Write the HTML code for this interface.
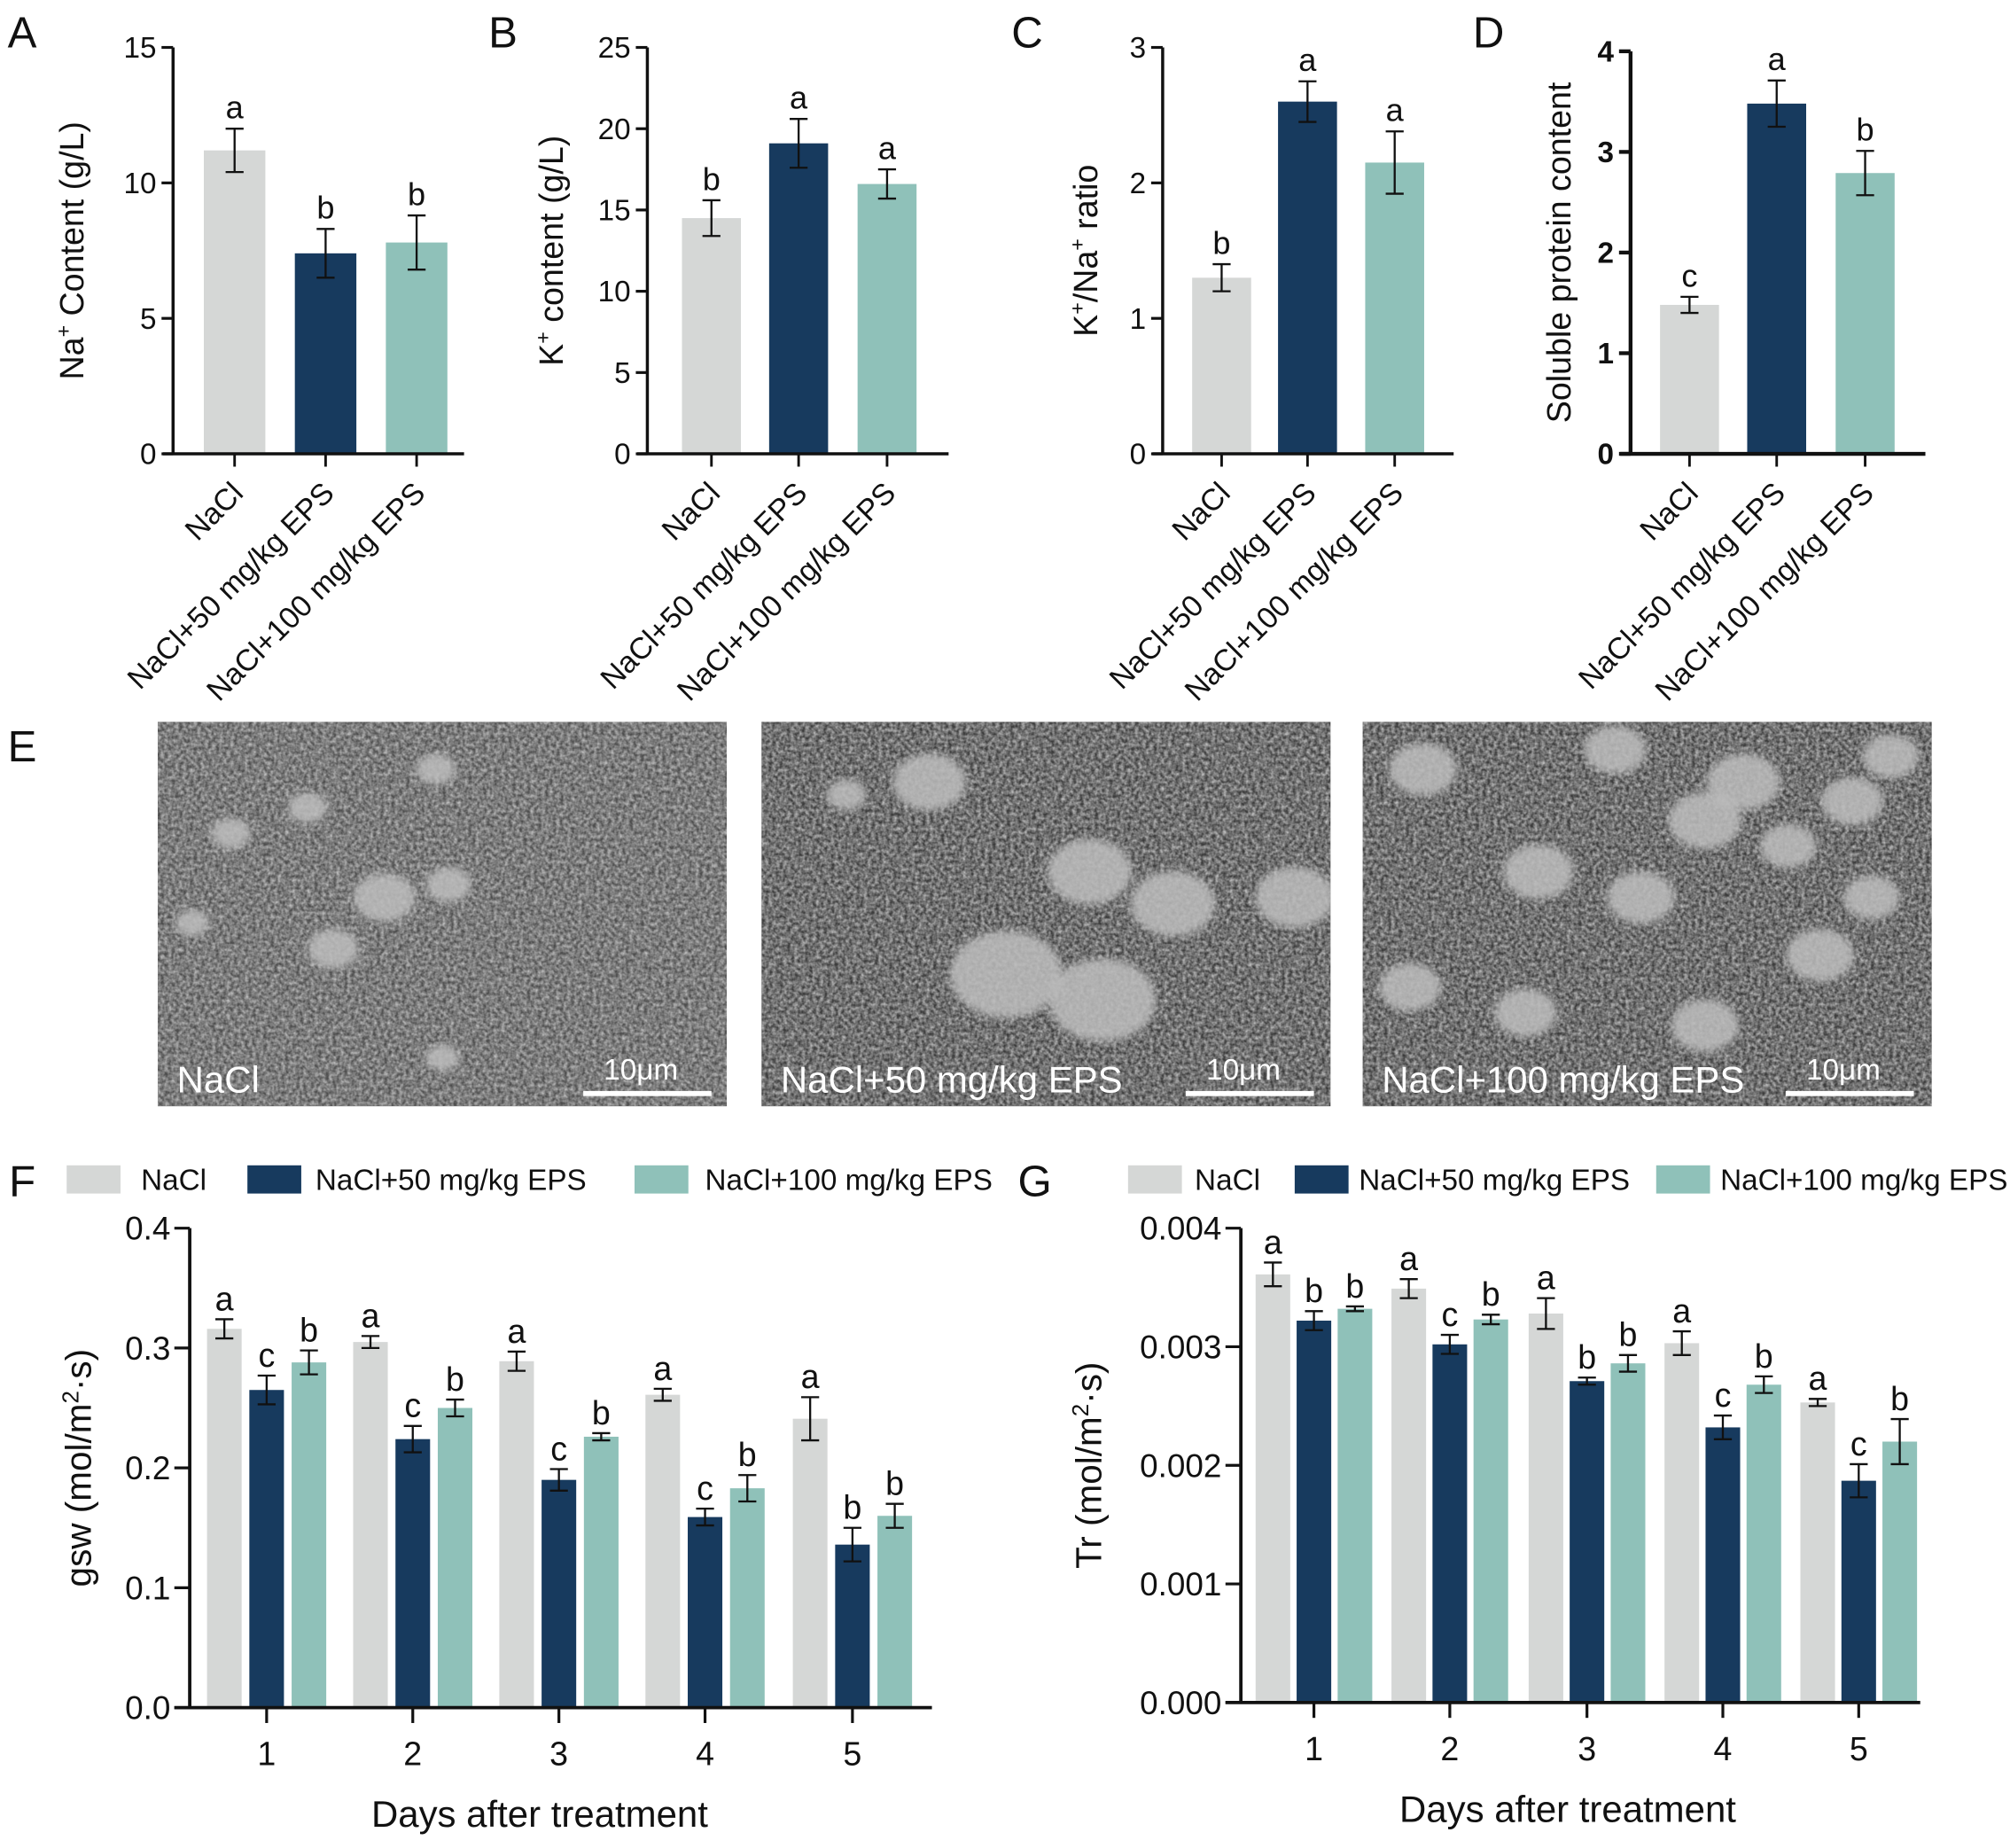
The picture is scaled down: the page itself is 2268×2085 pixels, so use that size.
<!DOCTYPE html>
<html><head><meta charset="utf-8"><style>
html,body{margin:0;padding:0;background:#fff}
svg{display:block;font-family:"Liberation Sans",Arial,sans-serif}
</style></head><body>
<svg id="fig" xmlns="http://www.w3.org/2000/svg" width="2268" height="2085" viewBox="0 0 1568 1441.5">
<defs>
<filter id="sem" x="0" y="0" width="100%" height="100%">
<feTurbulence type="fractalNoise" baseFrequency="0.35" numOctaves="2" seed="3"/>
<feColorMatrix type="matrix" values="0 0 0 0 0.55  0 0 0 0 0.55  0 0 0 0 0.55  1.4 0 0 0 -0.3"/>
</filter>
<filter id="blur"><feGaussianBlur stdDeviation="3"/></filter>
</defs>
</svg>
<script>
// ---------- data ----------
var groupsABCD = ["NaCl","NaCl+50 mg/kg EPS","NaCl+100 mg/kg EPS"];
var naVals = [11.2, 7.4, 7.8];
var naErr = [0.8, 0.9, 1.0];
var naLet = ["a","b","b"];
var naTicks = [0,5,10,15];
var kVals = [14.5, 19.1, 16.6];
var kErr = [1.1, 1.5, 0.9];
var kLet = ["b","a","a"];
var kTicks = [0,5,10,15,20,25];
var ratioVals = [1.3, 2.6, 2.15];
var ratioErr = [0.1, 0.15, 0.23];
var ratioLet = ["b","a","a"];
var ratioTicks = [0,1,2,3];
var protVals = [1.48, 3.48, 2.79];
var protErr = [0.08, 0.23, 0.22];
var protLet = ["c","a","b"];
var protTicks = [0,1,2,3,4];
var days = ["1","2","3","4","5"];
var gswNaCl = [0.316,0.305,0.289,0.261,0.241];
var gswE50 = [0.265,0.224,0.190,0.159,0.136];
var gswE100 = [0.288,0.250,0.226,0.183,0.160];
var gswErrNaCl = [0.008,0.005,0.008,0.005,0.018];
var gswErrE50 = [0.012,0.011,0.009,0.007,0.014];
var gswErrE100 = [0.010,0.007,0.003,0.011,0.010];
var gswLetNaCl = ["a","a","a","a","a"];
var gswLetE50 = ["c","c","c","c","b"];
var gswLetE100 = ["b","b","b","b","b"];
var gswTicks = ["0.0","0.1","0.2","0.3","0.4"];
var trNaCl = [0.00361,0.00349,0.00328,0.00303,0.00253];
var trE50 = [0.00322,0.00302,0.00271,0.00232,0.00187];
var trE100 = [0.00332,0.00323,0.00286,0.00268,0.00220];
var trErrNaCl = [0.0001,0.00008,0.00013,0.0001,0.00003];
var trErrE50 = [0.00008,0.00008,0.00003,0.0001,0.00014];
var trErrE100 = [0.00002,0.00004,0.00007,0.00007,0.00019];
var trLetNaCl = ["a","a","a","a","a"];
var trLetE50 = ["b","c","b","c","c"];
var trLetE100 = ["b","b","b","b","b"];
var trTicks = ["0.000","0.001","0.002","0.003","0.004"];

var COLORS = ["#d5d7d6","#173a5e","#8fc1b9"];
var NS = "http://www.w3.org/2000/svg";
var svg = document.getElementById("fig");
function mk(tag, attrs, parent){
  var e = document.createElementNS(NS, tag);
  for (var k in attrs) e.setAttribute(k, attrs[k]);
  (parent||svg).appendChild(e);
  return e;
}
function txt(s, x, y, size, anchor, parent, extra){
  var t = mk("text", {x:x, y:y, "font-size":size, "text-anchor":anchor||"middle", fill:"#111"}, parent);
  if (extra) for (var k in extra) t.setAttribute(k, extra[k]);
  t.textContent = s;
  return t;
}
function line(x1,y1,x2,y2,w,parent){
  return mk("line",{x1:x1,y1:y1,x2:x2,y2:y2,stroke:"#111","stroke-width":w||2},parent);
}
function errBar(cx, yTop, yBot, parent){
  var g = mk("g", {}, parent);
  
  
  line(cx,yTop,cx,yBot,1.6,g);
  line(cx-7,yTop,cx+7,yTop,1.6,g);
  line(cx-7,yBot,cx+7,yBot,1.6,g);
}

// ---------- panels A-D ----------
function smallPanel(name, ax, top, zero, right, max, ticks, vals, errs, lets, centers, bw, title, bold){
  var g = mk("g", {});
  
  
  function y(v){ return zero - (v/max)*(zero-top); }
  for (var i=0;i<vals.length;i++){
    var r = mk("rect",{x:centers[i]-bw/2, y:y(vals[i]), width:bw, height:zero-y(vals[i]), fill:COLORS[i]}, g);
    
    
    errBar(centers[i], y(vals[i]+errs[i]), y(vals[i]-errs[i]), g);
    var l = txt(lets[i], centers[i], y(vals[i]+errs[i])-8, 25, "middle", g);
    
    
    line(centers[i], zero, centers[i], zero+10, 2, g);
    var xl = txt(groupsABCD[i], centers[i]+8, zero+32, 23.5, "end", g, {transform:"rotate(-45 "+(centers[i]+8)+" "+(zero+32)+")"});
    
    
  }
  var ya = line(ax, top, ax, zero+1, bold?3:2.4, g);
  
  var xa = line(ax-8, zero, right, zero, bold?3:2.4, g);
  
  for (var j=0;j<ticks.length;j++){
    var ty = y(ticks[j]);
    line(ax-9, ty, ax, ty, bold?3:2.2, g);
    var tl = txt(String(ticks[j]), ax-13, ty+8, 23, "end", g, bold?{"font-weight":"bold"}:{});
    
    
  }
  var midY = (top+zero)/2;
  var tt = mk("text",{x:0,y:0,"font-size":26,"text-anchor":"middle",fill:"#111",transform:"translate("+title.x+" "+midY+") rotate(-90)"}, g);
  
  
  tt.innerHTML = title.html;
}
smallPanel("panel-a-na-content",135,37,354,362,15,naTicks,naVals,naErr,naLet,[183,254,325],48,{x:65,html:'Na<tspan dy="-10" font-size="16">+</tspan><tspan dy="10"> Content (g/L)</tspan>'},false);
smallPanel("panel-b-k-content",505,37,354,740,25,kTicks,kVals,kErr,kLet,[555,623,692],46,{x:439,html:'K<tspan dy="-10" font-size="16">+</tspan><tspan dy="10"> content (g/L)</tspan>'},false);
smallPanel("panel-c-k-na-ratio",907,37,354,1134,3,ratioTicks,ratioVals,ratioErr,ratioLet,[953,1020,1088],46,{x:856,html:'K<tspan dy="-10" font-size="16">+</tspan><tspan dy="10">/Na</tspan><tspan dy="-10" font-size="16">+</tspan><tspan dy="10"> ratio</tspan>'},false);
smallPanel("panel-d-soluble-protein",1272,40,354,1502,4,protTicks,protVals,protErr,protLet,[1318,1386,1455],46,{x:1225,html:'Soluble protein content'},true);

// ---------- panel letters ----------
var letters = [["A",6,37],["B",381,37],["C",789,37],["D",1149,37],["E",6,594],["F",7,933],["G",794,933]];
for (var i=0;i<letters.length;i++){
  var pl = txt(letters[i][0], letters[i][1], letters[i][2], 34, "start");
  
  
}

// ---------- panel E images ----------
var imgs = [[123,"NaCl",455,[[340,600,14],[300,700,22],[350,690,16],[260,740,18],[345,825,12],[180,650,14],[150,720,12],[240,630,14]]],
            [594,"NaCl+50 mg/kg EPS",925,[[725,610,26],[850,680,30],[915,705,30],[785,760,40],[860,780,38],[1010,700,28],[660,620,14]]],
            [1063,"NaCl+100 mg/kg EPS",1393,[[1110,600,24],[1200,680,25],[1280,700,24],[1360,610,26],[1445,625,22],[1395,660,20],[1330,640,26],[1460,700,20],[1420,745,24],[1330,800,24],[1190,790,22],[1100,770,22],[1260,585,22],[1475,590,20]]]];
for (var i=0;i<imgs.length;i++){
  var x0 = imgs[i][0];
  var g = mk("g",{});
  
  
  var cp = mk("clipPath",{id:"cp"+i}, g);
  mk("rect",{x:x0,y:563,width:444,height:300}, cp);
  var ig = mk("g",{"clip-path":"url(#cp"+i+")"}, g);
  mk("rect",{x:x0,y:563,width:444,height:300,fill:i==0?"#4e4e4e":"#3c3c3c"}, ig);
  mk("rect",{x:x0,y:563,width:444,height:300,filter:"url(#sem)"}, ig);
  var blobs = imgs[i][3];
  for (var b=0;b<blobs.length;b++){
    mk("ellipse",{cx:blobs[b][0],cy:blobs[b][1],rx:blobs[b][2]*1.1,ry:blobs[b][2]*0.85,fill:"#bdbdbd",opacity:0.85,filter:"url(#blur)"}, ig);
  }
  var lb = txt(imgs[i][1], x0+15, 852, 29, "start", g, {fill:"#fff"});
  
  
  var sx = imgs[i][2];
  var sb = mk("rect",{x:sx,y:851,width:100,height:4,fill:"#fff"}, g);
  
  
  var st = txt("10μm", sx+45, 842, 23, "middle", g, {fill:"#fff"});
  
  
}

// ---------- panels F & G ----------
var seriesNames = ["NaCl","NaCl+50 mg/kg EPS","NaCl+100 mg/kg EPS"];
function legend(name, sw, tx, y){
  var g = mk("g",{});
  
  
  for (var i=0;i<3;i++){
    var r = mk("rect",{x:sw[i],y:y-11,width:42,height:22,fill:COLORS[i]}, g);
    
    
    var t = txt(seriesNames[i], tx[i], y+8, 23, "start", g);
    
    
  }
}
legend("legend-f",[52,193,495],[110,246,550],920);
legend("legend-g",[880,1010,1292],[932,1060,1342],920);

function bigPanel(name, ax, top, zero, right, max, ticks, centers, off, bw, series, errs, lets, yTitle, yTitleX, xTitleX, xTitleY){
  var g = mk("g",{});
  
  
  function y(v){ return zero - (v/max)*(zero-top); }
  for (var d=0; d<centers.length; d++){
    for (var s=0;s<3;s++){
      var cx = centers[d] + (s-1)*off;
      var v = series[s][d];
      var r = mk("rect",{x:cx-bw/2,y:y(v),width:bw,height:zero-y(v),fill:COLORS[s]}, g);
      
      
      errBar(cx, y(v+errs[s][d]), y(v-errs[s][d]), g);
      var l = txt(lets[s][d], cx, y(v+errs[s][d])-7, 26, "middle", g);
      
      
    }
    line(centers[d], zero, centers[d], zero+12, 2.2, g);
    var xl = txt(days[d], centers[d], zero+45, 26, "middle", g);
    
    
  }
  var ya = line(ax, top, ax, zero+1, 2.6, g);
  
  var xa = line(ax-12, zero, right, zero, 2.6, g);
  
  for (var j=0;j<ticks.length;j++){
    var ty = y(parseFloat(ticks[j]));
    line(ax-12, ty, ax, ty, 2.2, g);
    var tl = txt(ticks[j], ax-15, ty+9, 25.5, "end", g);
    
    
  }
  var tt = mk("text",{x:0,y:0,"font-size":28,"text-anchor":"middle",fill:"#111",transform:"translate("+yTitleX+" "+((top+zero)/2)+") rotate(-90)"}, g);
  
  
  tt.innerHTML = yTitle + ' (mol/m<tspan dy="-10" font-size="18">2</tspan><tspan dy="10">·s)</tspan>';
  var xt = txt("Days after treatment", xTitleX, xTitleY, 29, "middle", g);
  
  
}
bigPanel("panel-f-gsw",148,958,1332,727,0.4,gswTicks,[208,322,436,550,665],33,27,
  [gswNaCl,gswE50,gswE100],[gswErrNaCl,gswErrE50,gswErrE100],[gswLetNaCl,gswLetE50,gswLetE100],"gsw",71,421,1425);
bigPanel("panel-g-tr",968,958,1328,1498,0.004,trTicks,[1025,1131,1238,1344,1450],32,27,
  [trNaCl,trE50,trE100],[trErrNaCl,trErrE50,trErrE100],[trLetNaCl,trLetE50,trLetE100],"Tr",859,1223,1421);
</script>
</body></html>
